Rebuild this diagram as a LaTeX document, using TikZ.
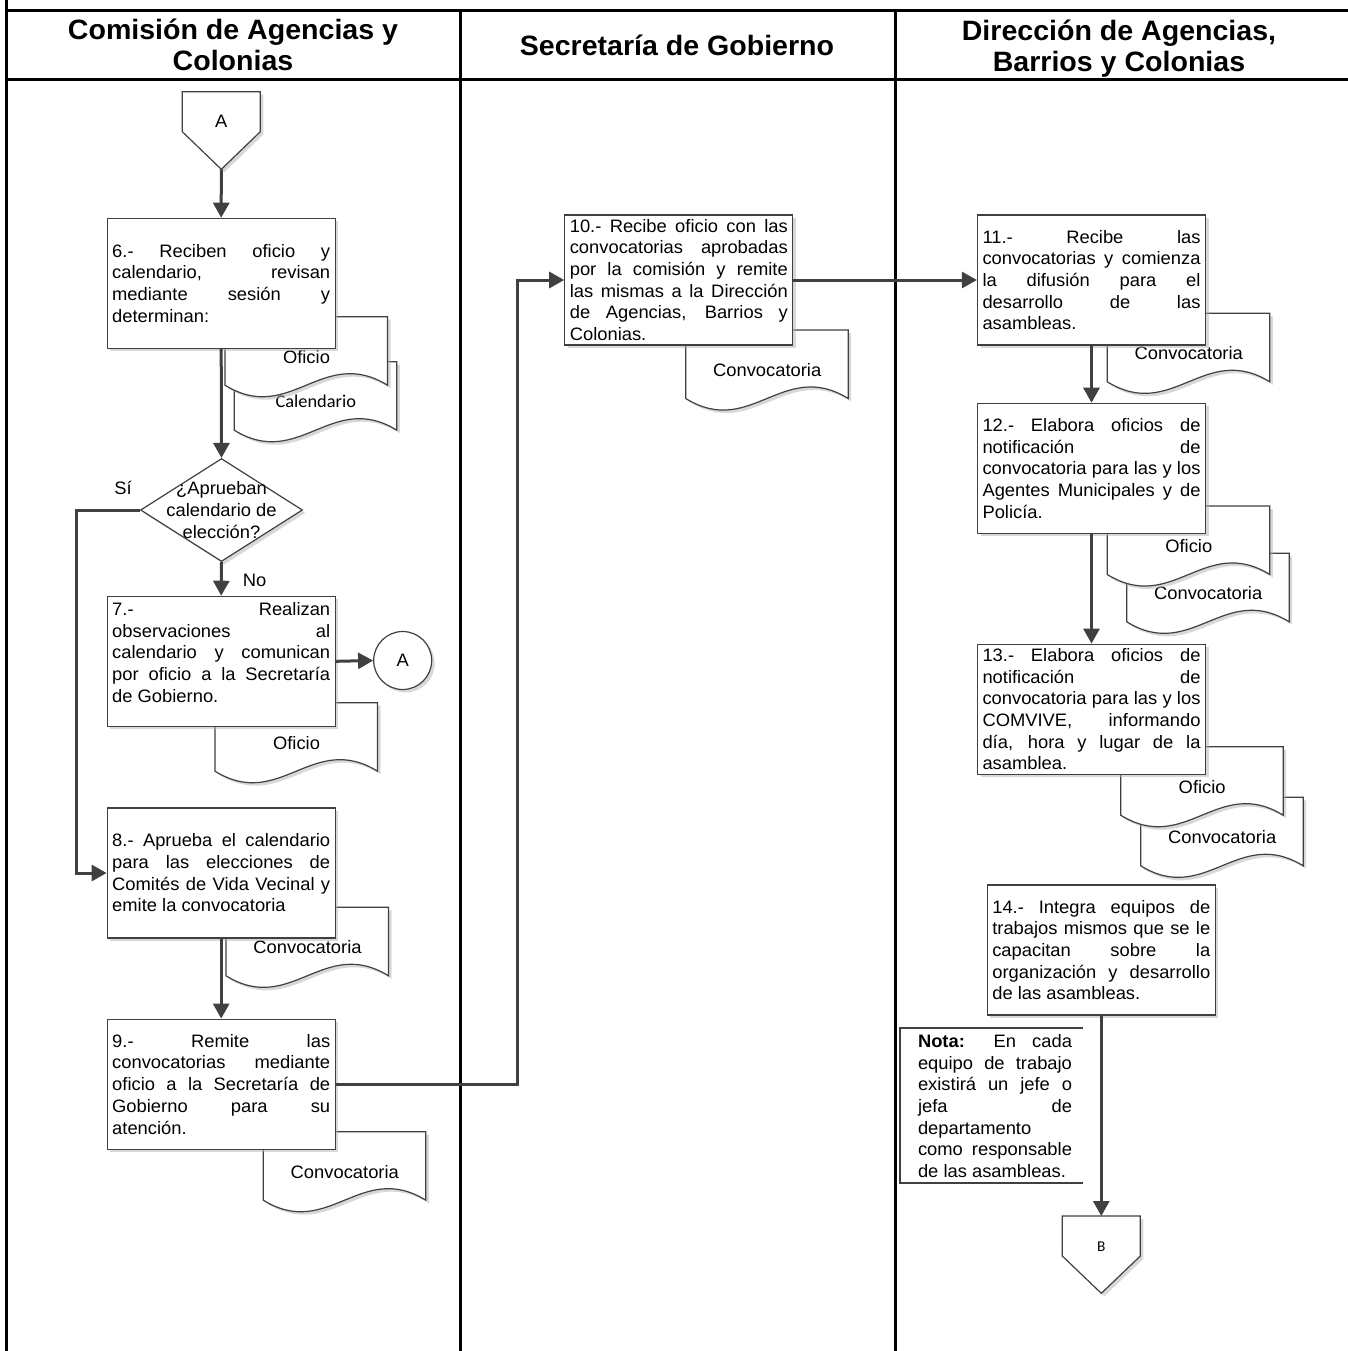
\documentclass[tikz,border=0pt]{standalone}
\usepackage{fontspec}
\setmainfont{Liberation Sans}
\newfontfamily\bodyfont[FakeStretch=1.02]{Liberation Sans}
\newfontfamily\headfont[FakeStretch=1.02]{Liberation Sans}
\newfontfamily\calfont[FakeStretch=1.02]{Carlito}
\usetikzlibrary{shapes.geometric,arrows.meta,shadows,positioning}
\definecolor{dgray}{HTML}{404040}
\tolerance=10000 \hbadness=10000 \hyphenpenalty=10000 \exhyphenpenalty=10000
\newcommand{\bodytext}{\bodyfont\fontsize{9}{10.85}\selectfont}
% document symbol: name, left, top, text
\newcommand{\docshape}[4]{%
  \draw[docline] (#2,#3) -- ({#2+162.5},#3) -- ({#2+162.5},{#3+68.5})
    .. controls ({#2+97.5},{#3+28.5}) and ({#2+65},{#3+108.5}) .. (#2,{#3+68.5}) -- cycle;
  \node[doctext] (#1) at ({#2+81.5},{#3+40}) {#4};
}
\begin{document}
\begin{tikzpicture}
    [x=0.5pt,y=-0.5pt,
    tableline/.style={line width=1.5pt,black},
    headtext/.style={align=center,font=\headfont\bfseries\fontsize{14}{15.5}\selectfont},
    shade/.style={drop shadow={shadow xshift=1.5pt,shadow yshift=-1.5pt,fill=black!30}},
    box/.style={draw=dgray,line width=0.6pt,fill=white,text width=109pt,inner xsep=2.5pt,
      inner ysep=1pt,minimum height=65pt,align=justify,font=\bodytext,shade},
    docline/.style={draw=dgray,line width=0.6pt,fill=white,shade},
    doctext/.style={font=\bodytext,inner sep=0pt},
    decision/.style={diamond,draw=dgray,line width=0.6pt,fill=white,minimum width=81pt,
      minimum height=51.5pt,inner sep=0pt,shade},
    flow/.style={draw=dgray,line width=1.5pt,-{Triangle[length=7.5pt,width=8pt]}},
    lbl/.style={font=\bodytext,inner sep=0pt}]
    \useasboundingbox (0,0) rectangle (1348,1351);
    %lanes
    \draw[tableline] (6,0)--(6,1351);
    \draw[tableline] (6,10.5)--(1348,10.5);
    \draw[tableline] (6,79)--(1348,79);
    \draw[tableline] (460,10.5)--(460,1351);
    \draw[tableline] (895.5,10.5)--(895.5,1351);
    %headers
    \node[headtext] (h1) at (233,45) {Comisión de Agencias y\\Colonias};
    \node[headtext] (h2) at (677,45) {Secretaría de Gobierno};
    \node[headtext] (h3) at (1119,48.5) {Dirección de Agencias,\\Barrios y Colonias};
    %off-page connectors
    \draw[docline] (182.3,91.7)--(260.3,91.7)--(260.3,131.7)--(221.3,169.3)--(182.3,131.7)--cycle;
    \node[lbl] (offA) at (221.3,121) {A};
    \coordinate (offAtip) at (221.3,169.3);
    \draw[docline] (1062.3,1216)--(1140.3,1216)--(1140.3,1256)--(1101.3,1293.3)--(1062.3,1256)--cycle;
    \node[lbl,font=\calfont\fontsize{7.5}{9}\selectfont] (offB) at (1101.3,1247) {B};
    \coordinate (offBtop) at (1101.3,1216);
    %documents
    \docshape{d6cal}{234.3}{361.7}{\calfont Calendario}
    \docshape{d6of}{225}{316.7}{Oficio}
    \docshape{d7of}{215}{702.7}{Oficio}
    \docshape{d8conv}{226}{907.3}{Convocatoria}
    \docshape{d9conv}{263.3}{1131.7}{Convocatoria}
    \docshape{d10conv}{685.7}{330}{Convocatoria}
    \docshape{d11conv}{1107.3}{313.3}{Convocatoria}
    \docshape{d12conv}{1126.7}{553.3}{Convocatoria}
    \docshape{d12of}{1107.3}{506}{Oficio}
    \docshape{d13conv}{1140.7}{797.3}{Convocatoria}
    \docshape{d13of}{1120.7}{746.7}{Oficio}
    %steps
    \node[box] (n6) at (221.2,283.3) {6.- Reciben oficio y\linebreak calendario, revisan\linebreak
      mediante sesión y\linebreak determinan:};
    \node[decision,label={[font=\bodytext,align=center]center:¿Aprueban\\calendario de\\elección?}]
      (dec) at (221.5,510) {};
    \node[box] (n7) at (221.2,661.3) {7.- Realizan\linebreak observaciones al\linebreak
      calendario y comunican\linebreak por oficio a la Secretaría\linebreak de Gobierno.\par
      \vspace{9pt}\hrule height0pt};
    \node[circle,draw=dgray,line width=0.6pt,fill=white,minimum size=29pt,inner sep=0pt,
      font=\bodytext,shade] (conA) at (402.7,660.5) {A};
    \node[box] (n8) at (221.2,873) {8.- Aprueba el calendario\linebreak para las elecciones de\linebreak
      Comités de Vida Vecinal y\linebreak emite la convocatoria};
    \node[box] (n9) at (221.2,1084.2) {9.- Remite las\linebreak convocatorias mediante\linebreak
      oficio a la Secretaría de\linebreak Gobierno para su\linebreak atención.};
    \node[box] (n10) at (678.8,280) {10.- Recibe oficio con las\linebreak convocatorias aprobadas\linebreak
      por la comisión y remite\linebreak las mismas a la Dirección\linebreak de Agencias, Barrios y\linebreak Colonias.};
    \node[box] (n11) at (1091.5,280) {11.- Recibe las\linebreak convocatorias y comienza\linebreak
      la difusión para el\linebreak desarrollo de las\linebreak asambleas.};
    \node[box] (n12) at (1091.5,468.3) {12.- Elabora oficios de\linebreak notificación de\linebreak
      convocatoria para las y los\linebreak Agentes Municipales y de\linebreak Policía.};
    \node[box] (n13) at (1091.5,709.2) {13.- Elabora oficios de\linebreak notificación de\linebreak
      convocatoria para las y los\linebreak COMVIVE, informando\linebreak día, hora y lugar de la\linebreak asamblea.};
    \node[box] (n14) at (1101.3,950) {14.- Integra equipos de\linebreak trabajos mismos que se le\linebreak
      capacitan sobre la\linebreak organización y desarrollo\linebreak de las asambleas.};
    %note
    \draw[draw=dgray,line width=1.1pt] (1083.3,1028.3)-|(900,1183.3)--(1083.3,1183.3);
    \node[text width=77pt,align=justify,font=\bodytext,inner sep=0pt] (nota) at (995,1106)
      {\textbf{Nota:} En cada\linebreak equipo de trabajo\linebreak existirá un jefe o\linebreak
      jefa de\linebreak departamento\linebreak como responsable\linebreak de las asambleas.};
    %labels
    \node[lbl] (si) at (123,488) {Sí};
    \node[lbl] (no) at (254.7,580) {No};
    %arrows
    \coordinate (sicol) at (76,700);
    \coordinate (sgbend) at (517,700);
    \draw[flow] (offAtip)--(n6.north);
    \draw[flow] (n6.south)--(dec.north);
    \draw[flow] (dec.south)--(n7.north);
    \draw[flow] (dec.west)--(dec.west-|sicol)|-(n8.west);
    \draw[flow] (n7.east)--(conA.west);
    \draw[flow] (n8.south)--(n9.north);
    \draw[flow] (n9.east)-|(sgbend)|-(n10.west);
    \draw[flow] (n10.east)--(n11.west);
    \draw[flow] (n11.south)--(n12.north);
    \draw[flow] (n12.south)--(n13.north);
    \draw[flow] (n14.south)--(offBtop);
\end{tikzpicture}
\end{document}
